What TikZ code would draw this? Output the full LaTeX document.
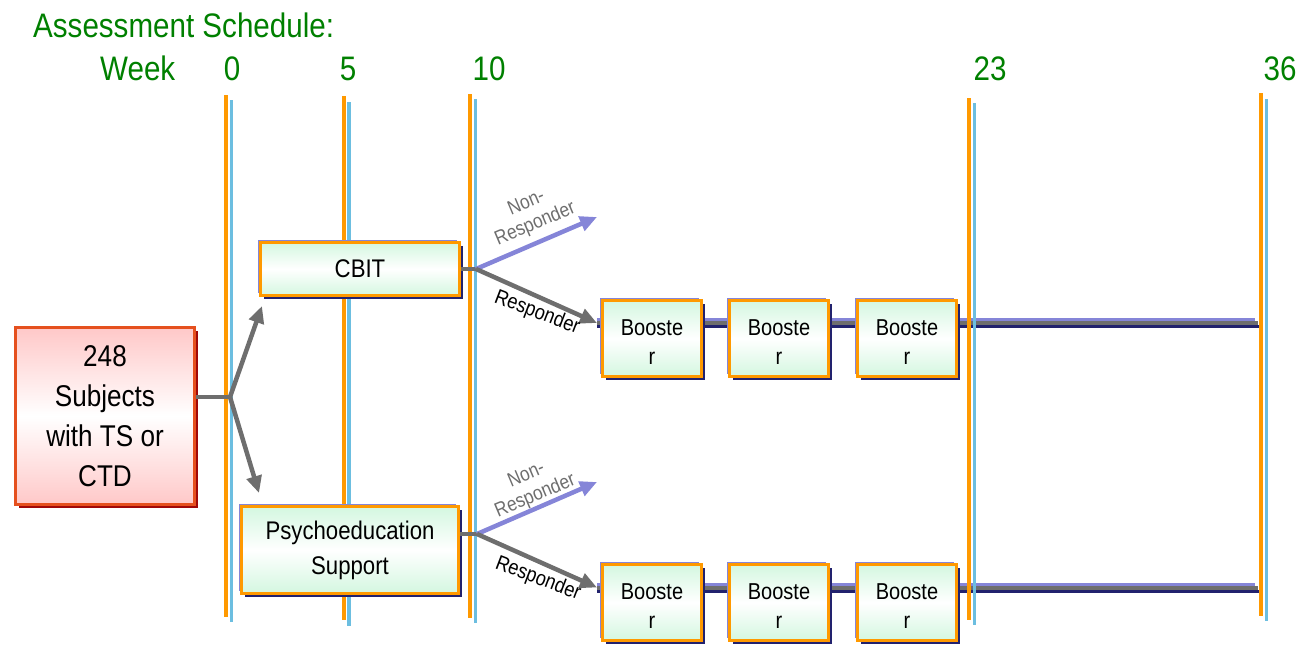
\documentclass[tikz,border=0pt]{standalone}
\usepackage{fontspec}
\setmainfont[FakeStretch=0.87]{Liberation Sans}
\usetikzlibrary{positioning,calc,arrows.meta,shadows}
\definecolor{wkorange}{HTML}{FF9900}
\definecolor{wkblue}{HTML}{6CBEE0}
\definecolor{wkgreen}{HTML}{008000}
\definecolor{boxpurple}{HTML}{8585D8}
\definecolor{boxnavy}{HTML}{22226E}
\definecolor{mint}{HTML}{D4F7E0}
\definecolor{arrowgray}{HTML}{6E6E6E}
\definecolor{subjred}{HTML}{E5501E}
\definecolor{subjsalmon}{HTML}{FF7565}
\definecolor{subjdark}{HTML}{A00808}
\definecolor{subjpink}{HTML}{FFC8C8}
\newcommand{\bstext}{\rule{0pt}{22.5pt}Booste\\r}
\tikzset{
weeklabel/.style={text=wkgreen, font=\fontsize{34}{40}\selectfont, anchor=base, inner sep=0},
weekorange/.style={draw=wkorange, line width=4pt},
weekblue/.style={draw=wkblue, line width=3.5pt},
armbox/.style={rectangle, draw=wkorange, line width=3pt, inner sep=0, align=center,
   top color=mint, bottom color=mint, middle color=white,
   general shadow={fill=boxpurple, shadow xshift=-3pt, shadow yshift=3pt},
   general shadow={fill=boxnavy, shadow xshift=3pt, shadow yshift=-3pt}},
boosterbox/.style={armbox, minimum width=99pt, minimum height=76pt,
   font=\fontsize{23}{29}\selectfont},
subjbox/.style={rectangle, draw=subjred, line width=3pt, inner sep=0, align=center,
   top color=subjpink, bottom color=subjpink, middle color=white,
   general shadow={fill=subjsalmon, shadow xshift=-2pt, shadow yshift=2pt},
   general shadow={fill=subjdark, shadow xshift=3pt, shadow yshift=-3pt},
   minimum width=179pt, minimum height=177pt, font=\fontsize{30}{40}\selectfont},
grayarrow/.style={draw=arrowgray, line width=4.5pt, -{Triangle[length=17pt,width=15pt]}},
purplearrow/.style={draw=boxpurple, line width=4.5pt, -{Triangle[length=17pt,width=15pt]}},
graylink/.style={draw=arrowgray, line width=4.5pt},
rlabel/.style={font=\fontsize{21}{21}\selectfont, inner sep=0},
nrlabel/.style={font=\fontsize{20}{23}\selectfont, text=arrowgray, align=center, inner sep=0}
}
\begin{document}
\begin{tikzpicture}[x=1pt, y=-1pt]
\useasboundingbox (0,0) rectangle (1303,645);

%Schedule header
\node[weeklabel, anchor=base west] (title) at (33,37) {Assessment Schedule:};
\node[weeklabel, anchor=base west] (week) at (100,80) {Week};
\node[weeklabel] (w0) at (232,80) {0};
\node[weeklabel] (w5) at (348,80) {5};
\node[weeklabel] (w10) at (489,80) {10};
\node[weeklabel] (w23) at (990,80) {23};
\node[weeklabel] (w36) at (1280,80) {36};

% coordinates for junctions and free ends
\coordinate (jSub) at (230,397);
\coordinate (toCbit) at (262,306);
\coordinate (toPsy) at (259,493);
\coordinate (jCbit) at (476,269);
\coordinate (jPsy) at (477,534);
\coordinate (nrTop) at (597,217);
\coordinate (nrBot) at (597,482);
\coordinate (barTopL) at (597,323);
\coordinate (barTopR) at (1258,323);
\coordinate (barBotL) at (597,587.5);
\coordinate (barBotR) at (1258,587.5);

% booster bars
\foreach \l/\r in {barTopL/barTopR, barBotL/barBotR}{
  \draw[boxpurple, line width=3pt] ([yshift=3.5pt]\l) -- ([yshift=3.5pt,xshift=-3pt]\r);
  \draw[boxnavy, line width=3pt] ([yshift=-3.5pt]\l) -- ([yshift=-3.5pt,xshift=1pt]\r);
  \draw[arrowgray, line width=4pt] (\l) -- (\r);
}

% assessment lines
\foreach \x/\ot/\ob/\bt/\bb in {226/95/617/100/622, 343.5/96/620/102/626,
  470/94/618/99/623, 969/98/620/103/625, 1261/93/616/99/621}{
  \draw[weekorange] (\x,\ot) -- (\x,\ob);
  \draw[weekblue] (\x+5.5,\bt) -- (\x+5.5,\bb);
}

%Boxes
\node[subjbox] (subj) at (105,416) {248\\Subjects\\with TS or\\CTD};
\node[armbox, minimum width=199pt, minimum height=53pt, font=\fontsize{25.5}{35}\selectfont] (cbit) at (360,269) {CBIT};
\node[armbox, minimum width=217pt, minimum height=87pt, font=\fontsize{25.5}{35}\selectfont] (psy) at (350,550) {Psychoeducation\\Support};

\node[boosterbox] (bst1) at (652,338.5) {\bstext};
\node[boosterbox] (bst2) at (779,338.5) {\bstext};
\node[boosterbox] (bst3) at (907,338.5) {\bstext};
\node[boosterbox] (bsb1) at (652,602.5) {\bstext};
\node[boosterbox] (bsb2) at (779,602.5) {\bstext};
\node[boosterbox] (bsb3) at (907,602.5) {\bstext};

%Randomisation
\draw[graylink] (jSub -| subj.east) -- (jSub);
\draw[grayarrow] (jSub) -- (toCbit);
\draw[grayarrow] (jSub) -- (toPsy);

%Response split
\draw[graylink] (jCbit -| cbit.east) -- (jCbit);
\draw[purplearrow] (jCbit) -- (nrTop);
\draw[grayarrow] (jCbit) -- (barTopL);
\draw[graylink] (jPsy -| psy.east) -- (jPsy);
\draw[purplearrow] (jPsy) -- (nrBot);
\draw[grayarrow] (jPsy) -- (barBotL);

\node[nrlabel, rotate=23] (nrlTop) at (531,214) {Non-\\Responder};
\node[rlabel, rotate=-21] (rlTop) at (537,313) {Responder};
\node[nrlabel, rotate=23] (nrlBot) at (531,486) {Non-\\Responder};
\node[rlabel, rotate=-21] (rlBot) at (538,579) {Responder};

\end{tikzpicture}
\end{document}
